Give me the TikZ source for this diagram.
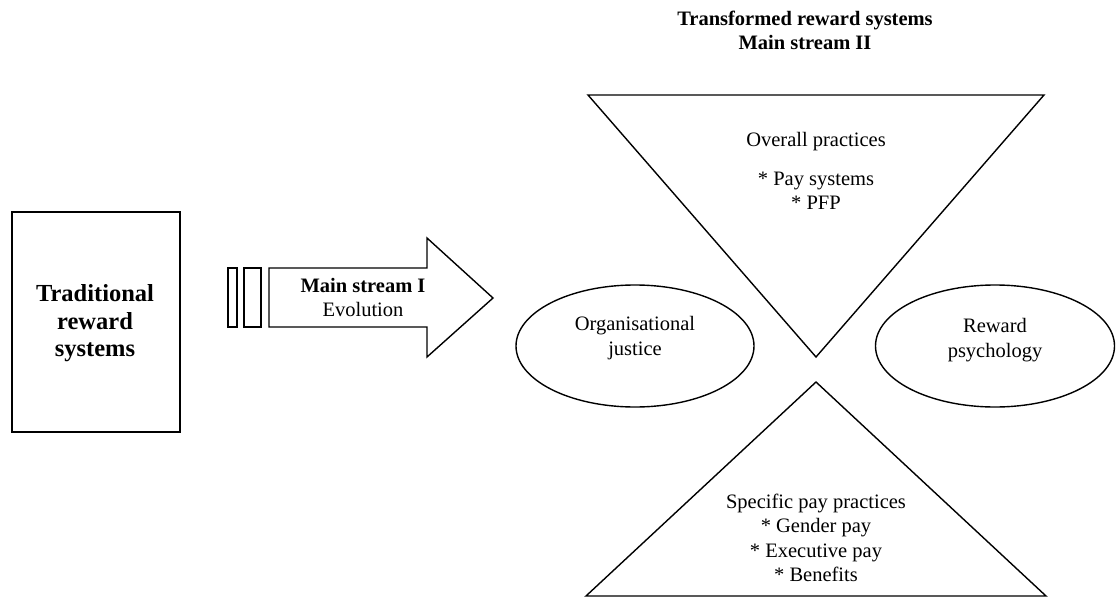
\documentclass[tikz,border=0pt]{standalone}
\usepackage{fontspec}
\setmainfont{Liberation Serif}
\usetikzlibrary{shapes.geometric}
\tikzset{
  shapeline/.style={draw=black, line width=1.4pt, line join=miter},
  txt/.style={inner sep=0pt, align=center, font=\fontsize{20.5}{24.5}\selectfont},
  btxt/.style={inner sep=0pt, align=center, font=\fontsize{20.5}{24}\selectfont\bfseries},
  bigtxt/.style={inner sep=0pt, align=center, font=\fontsize{24.5}{27.5}\selectfont\bfseries},
}
\begin{document}
\begin{tikzpicture}[x=1pt, y=-1pt]
\useasboundingbox (0,0) rectangle (1116,599);
% title
\node[btxt] (title) at (805,30) {Transformed reward systems\\Main stream II};
% traditional box
\draw[shapeline] (12,212) rectangle (180,432);
\node[bigtxt] (trad) at (95,323.5) {Traditional\\reward\\systems};
% small bars
\draw[shapeline] (228,268) rectangle (237,327);
\draw[shapeline] (244,268) rectangle (261,327);
% block arrow
\draw[shapeline] (269,268) -- (427,268) -- (427,238) -- (493,298) -- (427,357) -- (427,327) -- (269,327) -- cycle;
\node[txt] (ms1) at (363,297.5) {\textbf{Main stream I}\\Evolution};
% top inverted triangle
\draw[shapeline] (588,95) -- (1044,95) -- (816,357) -- cycle;
\node[txt] (overall) at (816,171) {Overall practices\\[14pt]* Pay systems\\* PFP};
% bottom triangle
\draw[shapeline] (816,382) -- (1046,596) -- (586,596) -- cycle;
\node[txt] (specific) at (816,538) {Specific pay practices\\* Gender pay\\* Executive pay\\* Benefits};
% ellipses
\draw[shapeline] (635,346) ellipse [x radius=119, y radius=61];
\node[txt] (org) at (635,338) {Organisational\\justice};
\draw[shapeline] (995,346) ellipse [x radius=119.5, y radius=61];
\node[txt] (rew) at (995,340) {Reward\\psychology};
\end{tikzpicture}
\end{document}
